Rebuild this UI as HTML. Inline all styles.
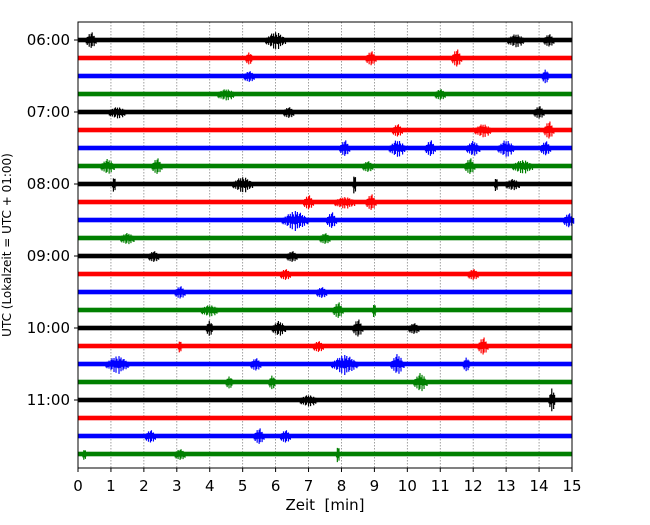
<!DOCTYPE html>
<html><head><meta charset="utf-8"><style>
body{margin:0;background:#fff}
svg text{font-family:"DejaVu Sans","Liberation Sans",sans-serif}
</style></head><body>
<svg id="c" width="650" height="520" xmlns="http://www.w3.org/2000/svg"></svg>
<script>
const xTicks=[0,1,2,3,4,5,6,7,8,9,10,11,12,13,14,15];
const hourLabels=["06:00","07:00","08:00","09:00","10:00","11:00"];
const rowColors=["black","red","blue","green"];
// per-row events: [minute, half-amplitude px, duration min]
const rowEvents=[
[[0.4,6,0.3],[6,6,0.6],[13.3,4,0.5],[14.3,4,0.3]],
[[11.5,7,0.3],[8.9,5,0.3],[5.2,4,0.2]],
[[14.2,5,0.2],[5.2,3,0.3]],
[[4.5,3,0.5],[11,3,0.3]],
[[1.2,3,0.5],[6.4,3,0.3],[14,4,0.3]],
[[14.3,7,0.3],[12.3,4,0.5],[9.7,4,0.3]],
[[8.1,6,0.3],[9.7,6,0.5],[10.7,6,0.3],[12,5,0.4],[13,6,0.5],[14.2,5,0.3]],
[[0.9,5,0.4],[2.4,6,0.3],[11.9,6,0.3],[13.5,4,0.6],[8.8,3,0.3]],
[[1.1,6,0.1],[5,5,0.6],[8.4,9,0.1],[12.7,5,0.1],[13.2,3,0.4]],
[[7,5,0.3],[8.9,6,0.3],[8.1,3,0.6]],
[[6.6,7,0.8],[7.7,6,0.3],[14.9,5,0.3]],
[[1.5,3,0.4],[7.5,3,0.3]],
[[2.3,3,0.3],[6.5,3,0.3]],
[[6.3,3,0.3],[12,3,0.3]],
[[3.1,4,0.3],[7.4,3,0.3]],
[[7.9,6,0.3],[9,5,0.1],[4,3,0.5]],
[[4,6,0.2],[6.1,5,0.4],[8.5,7,0.3],[10.2,3,0.3]],
[[12.3,7,0.3],[3.1,4,0.1],[7.3,3,0.3]],
[[1.2,6,0.7],[8.1,7,0.8],[9.7,8,0.4],[11.8,5,0.2],[5.4,4,0.3]],
[[10.4,7,0.4],[5.9,5,0.2],[4.6,4,0.2]],
[[14.4,11,0.2],[7,3,0.5]],
[],
[[5.5,6,0.3],[2.2,4,0.3],[6.3,4,0.3]],
[[7.9,7,0.1],[3.1,3,0.3],[0.2,3,0.1]]
];
const L=78,R=572,T=22,B=468;
const sx=m=>L+(m/15)*(R-L);
const sy=i=>40+i*18.0;
const svg=document.getElementById('c');
const NS="http://www.w3.org/2000/svg";
function mk(t,a){const e=document.createElementNS(NS,t);for(const k in a)e.setAttribute(k,a[k]);svg.appendChild(e);return e;}
// grid
xTicks.forEach(t=>{if(t>0&&t<15){const g=mk('line',{x1:sx(t),x2:sx(t),y1:T,y2:B,stroke:'#888','stroke-width':0.8,'stroke-dasharray':'1.5,1.5'});

}});
const jit=[0.2,1,0.5,0.9,0.3,0.7,1,0.4,0.8,0.25,0.95,0.55];
// traces
rowEvents.forEach((evs,i)=>{
 const col=rowColors[i%4],y=sy(i);
 const r=mk('rect',{x:L,y:y-2.3,width:R-L,height:4.6,fill:col});
 
 
 evs.forEach(ev=>{
  const [m,a,d]=ev;const x0=sx(m-d/2),x1=sx(m+d/2),n=Math.max(4,Math.round((x1-x0)/1.0));
  const g=document.createElementNS(NS,'path');
  let dd='';
  for(let k=0;k<=n;k++){const f=k/n,env=Math.pow(Math.sin(Math.PI*f),1.5),amp=2+a*env*jit[k%jit.length];
   const x=x0+f*(x1-x0);dd+='M'+x+' '+(y-amp)+'V'+(y+amp*jit[(k+5)%jit.length]+2);}
  g.setAttribute('d',dd);g.setAttribute('stroke',col);g.setAttribute('stroke-width',1.2);
  svg.appendChild(g);
  
  
 });
});
// frame
const f=mk('rect',{x:L,y:T,width:R-L,height:B-T,fill:'none',stroke:'#000','stroke-width':1});


// x ticks
xTicks.forEach(t=>{mk('line',{x1:sx(t),x2:sx(t),y1:B,y2:B+4,stroke:'#000'});
 const tx=mk('text',{x:sx(t),y:B+23,'font-size':15,'text-anchor':'middle'});tx.textContent=t;
 
 });
// y ticks
hourLabels.forEach((h,j)=>{const y=sy(j*4);mk('line',{x1:L-4,x2:L,y1:y,y2:y,stroke:'#000'});
 const tx=mk('text',{x:L-8,y:y+5,'font-size':15,'text-anchor':'end'});tx.textContent=h;
 
 });
const xt=mk('text',{x:(L+R)/2,y:510,'font-size':15,'text-anchor':'middle',style:'white-space:pre'});xt.textContent='Zeit  [min]';


const yt=mk('text',{x:0,y:0,'font-size':12,'text-anchor':'middle',transform:'translate(11,245) rotate(-90)'});yt.textContent='UTC (Lokalzeit = UTC + 01:00)';


</script>
</body></html>
